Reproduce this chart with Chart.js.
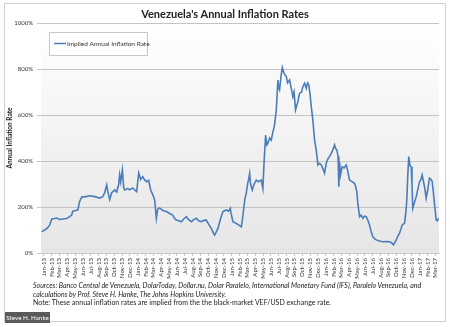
<!DOCTYPE html>
<html>
<head>
<meta charset="utf-8">
<script src="https://cdn.jsdelivr.net/npm/chart.js@4/dist/chart.umd.min.js"></script>
<style>
  html, body { margin: 0; padding: 0; background: #fff; }
  #wrap { position: relative; width: 450px; height: 327px; overflow: hidden; font-family: Lato, "Open Sans", sans-serif; }
  #frame { position: absolute; left: 4px; top: 3px; width: 442px; height: 319px; border: 1px solid #cfcfcf; box-sizing: border-box; }
  #titulo { position: absolute; left: 0; width: 450px; top: 7px; text-align: center; font-weight: bold; font-size: 11px; color: #222; }
  #grafico { position: absolute; left: 0; top: 0; }
  #notas { position: absolute; left: 33px; top: 281px; font-size: 7px; line-height: 8.7px; color: #222; }
  #notas i { font-style: italic; }
  #autor { position: absolute; left: 5px; top: 312px; width: 45px; height: 11px; background: #5a5a5a; color: #fff; font-size: 6.3px; line-height: 11px; text-align: center; }
</style>
</head>
<body>
<div id="wrap">
  <div id="frame"></div>
  <canvas id="grafico" width="450" height="327"></canvas>
  <div id="titulo">Venezuela's Annual Inflation Rates</div>
  <div id="notas">
    <i>Sources: Banco Central de Venezuela, DolarToday, Dollar.nu, Dolar Paralelo, International Monetary Fund (IFS), Paralelo Venezuela, and</i><br>
    <i>calculations by Prof. Steve H. Hanke, The Johns Hopkins University.</i><br>
    Note: These annual inflation rates are implied from the the black-market VEF/USD exchange rate.
  </div>
  <div id="autor">Steve H. Hanke</div>
</div>
<script>
// month labels for the x axis (0 = Jan-13)
const mesesLabels = [
  'Jan-13','Feb-13','Mar-13','Apr-13','May-13','Jun-13','Jul-13','Aug-13','Sep-13','Oct-13','Nov-13','Dec-13',
  'Jan-14','Feb-14','Mar-14','Apr-14','May-14','Jun-14','Jul-14','Aug-14','Sep-14','Oct-14','Nov-14','Dec-14',
  'Jan-15','Feb-15','Mar-15','Apr-15','May-15','Jun-15','Jul-15','Aug-15','Sep-15','Oct-15','Nov-15','Dec-15',
  'Jan-16','Feb-16','Mar-16','Apr-16','May-16','Jun-16','Jul-16','Aug-16','Sep-16','Oct-16','Nov-16','Dec-16',
  'Jan-17','Feb-17','Mar-17'
];

// position of each observation, in months since Jan-13
const posicaoMes = [
  -0.26, 0.13, 0.51, 0.77, 1.02, 1.40, 1.66, 2.04, 2.42, 2.93, 3.32, 3.57, 3.70, 4.08, 4.34, 4.59, 4.85, 5.36,
  5.87, 6.51, 7.14, 7.53, 7.78, 8.04, 8.16, 8.42, 8.67, 9.06, 9.31, 9.57, 9.69, 9.82, 10.04, 10.20, 10.33, 10.71,
  10.97, 11.35, 11.61, 11.86, 12.12, 12.37, 12.63, 12.88, 13.14, 13.39, 13.65, 13.90, 14.16, 14.37, 14.54, 14.80,
  15.18, 15.65, 16.07, 16.45, 16.71, 16.93, 17.22, 17.56, 17.86, 18.20, 18.49, 18.84, 19.13, 19.48, 19.77, 20.11,
  20.41, 20.75, 21.05, 21.39, 21.68, 21.81, 22.07, 22.23, 22.58, 22.87, 23.30, 23.60, 23.81, 23.92, 24.15, 24.49,
  24.87, 25.22, 25.38, 25.55, 25.70, 25.85, 26.02, 26.15, 26.28, 26.40, 26.62, 26.85, 27.13, 27.42, 27.77, 27.97,
  28.13, 28.32, 28.48, 28.61, 28.83, 29.04, 29.21, 29.46, 29.68, 29.89, 29.97, 30.10, 30.29, 30.45, 30.68, 30.96,
  31.12, 31.38, 31.57, 31.80, 31.95, 32.14, 32.44, 32.65, 32.91, 33.07, 33.29, 33.51, 33.67, 33.84, 33.99, 34.15,
  34.35, 34.57, 34.78, 34.99, 35.20, 35.42, 35.59, 35.84, 36.06, 36.29, 36.48, 36.70, 36.86, 37.12, 37.24, 37.41,
  37.56, 37.67, 37.76, 37.88, 38.10, 38.33, 38.61, 38.78, 39.03, 39.35, 39.67, 39.80, 39.96, 40.11, 40.31, 40.50,
  40.73, 40.94, 41.16, 41.39, 41.58, 41.77, 42.00, 42.22, 42.44, 42.86, 43.28, 43.69, 44.13, 44.39, 44.64, 44.99,
  45.15, 45.41, 45.60, 45.75, 46.05, 46.20, 46.34, 46.47, 46.59, 46.75, 46.90, 47.00, 47.10, 47.32, 47.54, 47.77,
  47.96, 48.15, 48.30, 48.47, 48.60, 48.81, 49.04, 49.23, 49.43, 49.58, 49.74, 49.87, 50.09, 50.23, 50.38
];

// implied annual inflation rate, percent
const inflacao = [
  93, 100, 110, 122, 148, 150, 152, 146, 148, 150, 158, 165, 182, 185, 187, 225, 243, 245,
  249, 245, 239, 245, 262, 296, 270, 232, 262, 274, 265, 300, 340, 310, 361, 285, 274, 280,
  275, 283, 274, 267, 348, 320, 332, 318, 310, 316, 274, 255, 230, 151, 190, 196,
  185, 180, 172, 165, 150, 143, 140, 136, 148, 158, 145, 136, 145, 151, 140, 136,
  142, 143, 125, 107, 85, 78, 95, 107, 150, 180, 187, 182, 194, 170, 136, 130,
  122, 114, 150, 201, 240, 260, 300, 320, 346, 300, 274, 300, 317, 310, 317, 281,
  400, 513, 470, 477, 500, 491, 520, 556, 622, 752, 720, 709, 770, 807, 780, 767,
  740, 752, 720, 680, 700, 622, 658, 694, 700, 723, 738, 716, 740, 730, 690, 636,
  578, 491, 448, 383, 390, 383, 370, 347, 390, 410, 420, 433, 445, 470, 455, 448,
  420, 288, 397, 340, 375, 370, 383, 360, 317, 310, 303, 290, 267, 210, 158, 165,
  151, 160, 158, 140, 122, 95, 71, 62, 57, 52, 49, 50, 49, 45, 35, 57,
  70, 86, 105, 122, 129, 170, 230, 340, 419, 380, 375, 300, 194, 220, 245, 280,
  310, 320, 339, 310, 288, 238, 280, 325, 320, 310, 260, 216, 143, 140, 151
];

const yTicks = [0, 200, 400, 600, 800, 1000];

const pontos = posicaoMes.map((m, i) => ({ x: m, y: inflacao[i] }));

// grey gradient behind the plot + legend box inside the plot
const fundoPlot = {
  id: 'fundoPlot',
  beforeDraw(chart) {
    const { ctx, chartArea: a } = chart;
    const g = ctx.createLinearGradient(0, a.top, 0, a.bottom);
    g.addColorStop(0, '#ffffff');
    g.addColorStop(1, '#e6e6e6');
    ctx.save();
    ctx.fillStyle = g;
    ctx.fillRect(a.left, a.top, a.right - a.left, a.bottom - a.top);
    ctx.restore();
  },
  afterDraw(chart) {
    const { ctx, chartArea: a } = chart;
    const ds = chart.data.datasets[0];
    const x = a.left + 8, y = a.top + 9;
    ctx.save();
    ctx.fillStyle = '#fff';
    ctx.strokeStyle = '#c8c8c8';
    ctx.lineWidth = 1;
    ctx.fillRect(x, y, 98, 23);
    ctx.strokeRect(x + 0.5, y + 0.5, 98, 23);
    ctx.strokeStyle = ds.borderColor;
    ctx.lineWidth = 1.5;
    ctx.beginPath();
    ctx.moveTo(x + 5, y + 11.5);
    ctx.lineTo(x + 17, y + 11.5);
    ctx.stroke();
    ctx.fillStyle = '#333';
    ctx.font = '6.5px Lato';
    ctx.textBaseline = 'middle';
    ctx.fillText(ds.label, x + 18, y + 11.5);
    ctx.restore();
  }
};

const ctx = document.getElementById('grafico').getContext('2d');
const grafico = new Chart(ctx, {
  type: 'line',
  data: {
    datasets: [{
      label: 'Implied Annual Inflation Rate',
      data: pontos,
      borderColor: '#4a7dba',
      borderWidth: 1.6,
      pointRadius: 0,
      tension: 0,
      fill: false
    }]
  },
  options: {
    responsive: false,
    animation: false,
    layout: { padding: { top: 23, left: 6, right: 11, bottom: 48 } },
    plugins: {
      legend: { display: false },
      title: { display: false },
      tooltip: { enabled: false }
    },
    scales: {
      x: {
        type: 'linear',
        min: -0.35,
        max: 50.45,
        afterBuildTicks(s) { s.ticks = mesesLabels.map((_, i) => ({ value: i })); },
        afterFit(s) { s.height = 26; },
        ticks: {
          autoSkip: false,
          minRotation: 90,
          maxRotation: 90,
          padding: 2,
          color: '#333',
          font: { family: 'Lato', size: 6 },
          callback: v => mesesLabels[v] || ''
        },
        grid: { drawOnChartArea: false, drawTicks: true, tickLength: 3, color: '#c8c8c8' },
        border: { color: '#c8c8c8' }
      },
      y: {
        min: 0,
        max: 1000,
        afterBuildTicks(s) { s.ticks = yTicks.map(v => ({ value: v })); },
        afterFit(s) { s.width = 35; },
        ticks: {
          color: '#333',
          padding: 4,
          font: { family: 'Lato', size: 6 },
          callback: v => v + '%'
        },
        title: {
          display: true,
          text: 'Annual Inflation Rate',
          color: '#222',
          padding: 0,
          font: { family: 'Lato', size: 6.5, weight: 'bold' }
        },
        grid: { color: '#c4c4c4', tickLength: 4, drawTicks: true },
        border: { display: false }
      }
    }
  },
  plugins: [fundoPlot]
});
</script>
</body>
</html>
